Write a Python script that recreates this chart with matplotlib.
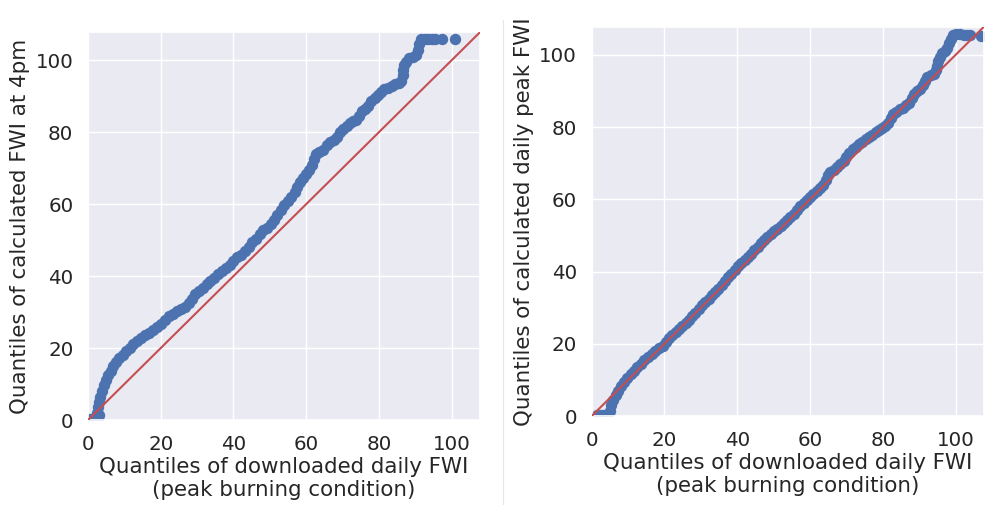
import numpy as np
import matplotlib
matplotlib.use("Agg")
import matplotlib.pyplot as plt
from matplotlib.lines import Line2D
import seaborn as sns

sns.set_theme(style="darkgrid")
plt.rcParams["font.family"] = ["DejaVu Sans"]

# quantile pairs: downloaded daily FWI (x) vs calculated FWI at 4pm (y)
q_download_4pm = [
    0.5, 1.3, 2.1, 2.8, 3.1, 2.4, 2.7, 3.0, 3.4, 3.9, 4.4, 5.0, 5.6, 6.3, 7.0,
    7.8, 8.6, 9.5, 10.5, 11.5, 12.5, 13.6, 14.7, 15.8, 16.9, 18.0, 19.1, 20.2,
    21.2, 22.3, 23.4, 24.5, 25.6, 26.7, 27.7, 28.6, 29.5, 30.5, 31.6, 32.6,
    33.6, 34.7, 35.8, 36.9, 38.0, 39.0, 40.0, 41.1, 42.2, 43.2, 44.2, 45.2,
    46.2, 47.2, 48.2, 49.3, 50.3, 51.2, 52.1, 53.0, 53.9, 54.9, 55.9, 56.8,
    57.6, 58.3, 59.1, 60.0, 60.9, 61.6, 62.1, 62.6, 63.6, 64.6, 65.6, 66.6,
    67.6, 68.5, 69.3, 70.2, 71.1, 72.0, 72.9, 73.8, 74.6, 75.3, 76.2, 77.1,
    77.9, 78.8, 79.7, 80.6, 81.5, 82.5, 83.5, 84.5, 85.5, 86.2, 86.5, 86.6,
    86.9, 87.5, 88.4, 89.3, 90.2, 90.8, 91.1, 91.6, 92.6, 93.5, 94.5, 95.5,
    97.3, 101.0,
]
q_calc_4pm = [
    0.2, 0.3, 0.3, 0.6, 1.5, 2.0, 3.5, 5.0, 6.5, 8.0, 9.6, 11.0, 12.4, 13.7,
    14.9, 16.0, 17.1, 18.1, 19.2, 20.1, 21.0, 21.9, 22.8, 23.6, 24.3, 25.0,
    25.8, 26.8, 27.8, 28.8, 29.6, 30.3, 30.9, 31.5, 32.4, 33.7, 35.0, 35.9,
    36.7, 37.7, 38.7, 39.6, 40.5, 41.3, 42.2, 43.2, 44.3, 45.2, 46.0, 47.0,
    48.2, 49.4, 50.4, 51.6, 52.8, 53.4, 54.4, 55.6, 57.0, 58.5, 59.8, 60.9,
    62.0, 63.3, 64.8, 66.2, 67.4, 68.5, 69.6, 71.0, 72.6, 74.0, 74.5, 75.0,
    76.3, 77.2, 77.8, 78.6, 80.0, 81.0, 81.8, 82.5, 83.0, 83.5, 84.4, 85.8,
    86.4, 87.3, 88.6, 89.6, 90.4, 91.2, 92.0, 92.3, 92.8, 93.4, 93.6, 94.2,
    95.8, 97.3, 98.6, 99.6, 100.5, 101.0, 101.5, 102.8, 104.5, 105.8, 105.8,
    105.8, 105.8, 105.8, 105.8, 105.8,
]

# quantile pairs: downloaded daily FWI (x) vs calculated daily peak FWI (y)
q_download_peak = [
    1.5, 2.5, 3.5, 4.5, 5.0, 5.3, 5.9, 6.6, 7.3, 8.1, 8.9, 9.8, 10.7, 11.6,
    12.5, 13.5, 14.5, 15.5, 16.5, 17.5, 18.5, 19.5, 20.4, 21.3, 22.2, 23.1,
    24.0, 24.9, 25.8, 26.7, 27.6, 28.5, 29.4, 30.3, 31.2, 32.1, 33.0, 33.9,
    34.8, 35.7, 36.6, 37.5, 38.4, 39.3, 40.2, 41.1, 42.0, 42.9, 43.8, 44.7,
    45.6, 46.5, 47.4, 48.3, 49.2, 50.1, 51.0, 51.9, 52.8, 53.7, 54.6, 55.5,
    56.4, 57.3, 58.2, 59.1, 60.0, 60.9, 61.8, 62.7, 63.6, 64.3, 64.9, 65.6,
    66.5, 67.4, 68.3, 69.2, 70.0, 70.8, 71.7, 72.6, 73.5, 74.4, 75.3, 76.2,
    77.1, 78.0, 78.9, 79.8, 80.7, 81.5, 82.2, 82.9, 83.7, 84.6, 85.5, 86.4,
    87.2, 87.9, 88.6, 89.4, 90.3, 91.0, 91.5, 92.2, 93.1, 94.0, 94.6, 94.9,
    95.2, 95.7, 96.3, 97.0, 97.7, 98.2, 98.6, 99.2, 100.2, 101.2, 102.2,
    103.2, 104.0, 106.9,
]
q_calc_peak = [
    0.2, 0.3, 0.3, 0.4, 1.5, 3.0, 4.5, 5.8, 7.0, 8.2, 9.4, 10.5, 11.5, 12.6,
    13.6, 14.5, 15.4, 16.3, 17.1, 17.9, 18.7, 19.5, 20.4, 21.5, 22.5, 23.3,
    24.1, 24.9, 25.7, 26.6, 27.6, 28.6, 29.6, 30.6, 31.6, 32.5, 33.4, 34.3,
    35.3, 36.3, 37.3, 38.4, 39.4, 40.4, 41.4, 42.3, 43.2, 44.0, 44.9, 45.9,
    46.9, 47.9, 48.7, 49.5, 50.3, 51.1, 51.9, 52.6, 53.4, 54.2, 55.1, 56.0,
    57.0, 58.1, 59.0, 59.8, 60.6, 61.4, 62.2, 63.0, 64.0, 65.3, 66.6, 67.6,
    68.2, 68.9, 69.7, 70.6, 71.7, 72.9, 73.9, 74.6, 75.2, 75.9, 76.6, 77.2,
    77.8, 78.5, 79.2, 79.7, 80.3, 81.2, 82.4, 83.5, 84.3, 84.9, 85.4, 86.0,
    86.8, 88.0, 89.2, 89.9, 90.5, 91.6, 92.8, 93.8, 94.3, 94.8, 95.8, 97.0,
    98.3, 99.5, 100.5, 101.2, 102.0, 103.2, 104.4, 105.5, 105.7, 105.7, 105.5,
    105.6, 105.4, 105.3,
]

xlabel = "Quantiles of downloaded daily FWI\n(peak burning condition)"
ylabels = ["Quantiles of calculated FWI at 4pm",
           "Quantiles of calculated daily peak FWI"]

fig = plt.figure(figsize=(9.99, 5.05), dpi=100)
ax1 = fig.add_axes([0.0881, 0.1683, 0.3924, 0.768])
ax2 = fig.add_axes([0.5923, 0.1762, 0.3927, 0.771])

panels = [(ax1, q_download_4pm, q_calc_4pm, ylabels[0]),
          (ax2, q_download_peak, q_calc_peak, ylabels[1])]

for ax, xq, yq, ylab in panels:
    ax.plot(xq, yq, "o", color="#4C72B0", markersize=8.2,
            markeredgewidth=0, zorder=2)
    ax.axline((0, 0), slope=1, color="#C44E52", linewidth=1.5, zorder=3)
    ax.set_xlim(0, 107.8)
    ax.set_ylim(0, 107.8)
    ax.set_xticks([0, 20, 40, 60, 80, 100])
    ax.set_yticks([0, 20, 40, 60, 80, 100])
    ax.tick_params(labelsize=14.3, pad=4.5, colors="#262626")
    ax.set_xlabel(xlabel, fontsize=15.4, color="#262626", labelpad=2.5)
    ax.set_ylabel(ylab, fontsize=15.4, color="#262626", labelpad=4)

# thin divider between the two saved panels
fig.add_artist(Line2D([0.5035, 0.5035], [0.0, 0.96], transform=fig.transFigure,
                      color="#e6e6e6", linewidth=0.8))

fig.savefig("out.png", dpi=100, facecolor="white")
